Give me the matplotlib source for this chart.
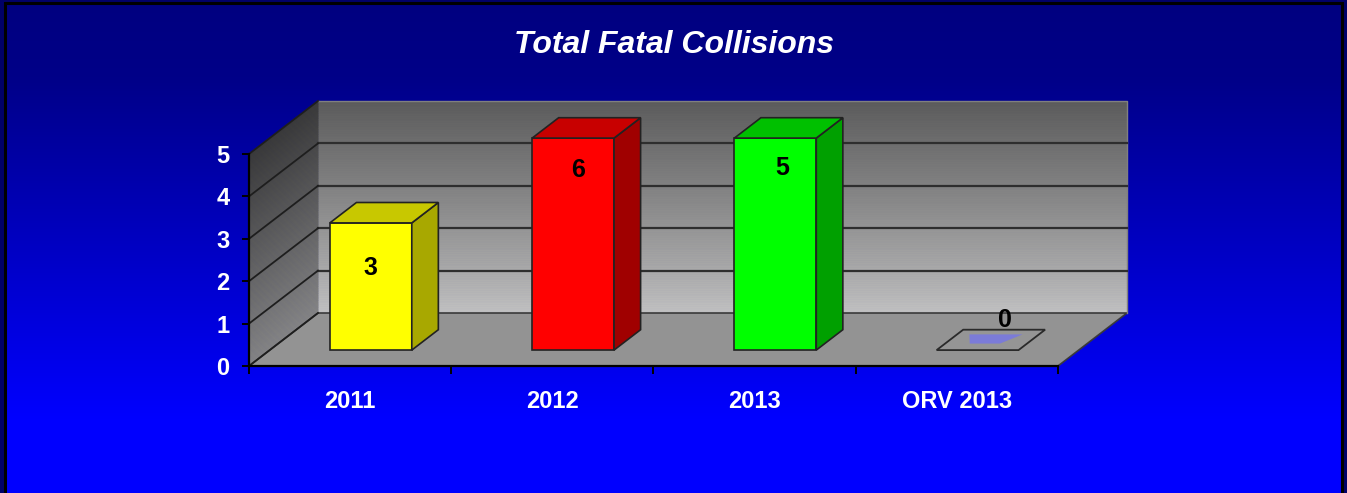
import matplotlib
matplotlib.use("Agg")
import matplotlib.pyplot as plt
import numpy as np
from matplotlib.patches import Polygon, Rectangle
from matplotlib.colors import LinearSegmentedColormap, to_rgb

# ---------------- data ----------------
categories = ["2011", "2012", "2013", "ORV 2013"]
values = [3, 6, 5, 0]
y_ticks = [0, 1, 2, 3, 4, 5]
title = "Total Fatal Collisions"

# ---------------- styles / layout ----------------
front_colors = ["#ffff00", "#ff0000", "#00ff00", "#8c8c8c"]
side_colors = ["#a8a800", "#a00000", "#00a000", "#8c8c8c"]
top_colors = ["#c8c800", "#c80000", "#00c000", "#959595"]
zero_fill = "#7b7bd8"
# value-label offsets (data units) relative to the top-front corner centre of each bar
label_dx = [0.0, 0.025, 0.033, 0.136]
label_dy = [-1.06, -0.75, -0.70, 0.70]

W, H = 1347, 493
FONT = "Liberation Sans"
DX = 69 / 202.25      # full depth shift in x data units
DY = 53 / 42.4        # full depth shift in y data units
F1, F2 = 0.30, 0.685  # bar front / back depth fractions
BAR_W = 0.405

fig = plt.figure(figsize=(W / 100, H / 100), dpi=100, facecolor="#000068")

# background gradient
bg = fig.add_axes([5 / W, 0, 1 - 10 / W, 1 - 3 / H], zorder=0)
grad = np.linspace(0, 1, 256).reshape(-1, 1)
bg_cmap = LinearSegmentedColormap.from_list(
    "bg", [(0, "#000080"), (0.15, "#000088"), (0.85, "#0000ff"), (1, "#0000ff")])
bg.imshow(grad, aspect="auto", cmap=bg_cmap, extent=[0, 1, 1, 0], origin="upper")
bg.set_xlim(0, 1); bg.set_ylim(1, 0)
bg.axis("off")
fig.patches.append(Rectangle((5 / W, -0.01), 1 - 10 / W, 1 - 3 / H + 0.01,
                             transform=fig.transFigure, fill=False,
                             edgecolor="black", lw=2.2, zorder=5))

n = len(categories)
YMAX = y_ticks[-1]
ax = fig.add_axes([249 / W, 127 / H, 809 / W, 212 / H], zorder=2)
ax.set_facecolor("none")
ax.set_xlim(-0.5, n - 0.5)
ax.set_ylim(0, YMAX)

x0, x1 = -0.5, n - 0.5


def mix(c1, c2, t):
    a, b = np.array(to_rgb(c1)), np.array(to_rgb(c2))
    return tuple(a + (b - a) * t)


# back wall bands (gradient)
nb = 120
edges = np.linspace(0, YMAX, nb + 1)
for k in range(nb):
    t = (edges[k] + edges[k + 1]) / 2 / YMAX
    col = mix("#c2c2c2", "#5c5c5c", t ** 0.9)
    ax.add_patch(Rectangle((x0 + DX, edges[k] + DY), x1 - x0, edges[k + 1] - edges[k],
                           facecolor=col, edgecolor=col, lw=0.6, clip_on=False, zorder=1))
# left wall bands
for k in range(nb):
    t = (edges[k] + edges[k + 1]) / 2 / YMAX
    col = mix("#858585", "#3a3a3a", t)
    ax.add_patch(Polygon([(x0, edges[k]), (x0 + DX, edges[k] + DY),
                          (x0 + DX, edges[k + 1] + DY), (x0, edges[k + 1])],
                         closed=True, facecolor=col, edgecolor=col, lw=0.6,
                         clip_on=False, zorder=1))
# floor
ax.add_patch(Polygon([(x0, 0), (x1, 0), (x1 + DX, DY), (x0 + DX, DY)], closed=True,
                     facecolor="#939393", edgecolor="#3a3a3a", lw=1.2,
                     clip_on=False, zorder=1.2))
# wall outlines
ax.plot([x0 + DX, x1 + DX, x1 + DX], [YMAX + DY, YMAX + DY, DY], color="#808080",
        lw=1.0, clip_on=False, zorder=1.3)

# gridlines on back wall and left wall
for v in y_ticks:
    if 0 < v < YMAX:
        ax.plot([x0 + DX, x1 + DX], [v + DY, v + DY], color="#2e2e2e", lw=1.6,
                clip_on=False, zorder=1.5)
    ax.plot([x0, x0 + DX], [v, v + DY], color="#1e1e1e", lw=1.3,
            clip_on=False, zorder=1.5)

# bars
clipped = [min(v, YMAX) for v in values]
xs = np.arange(n)
for i, (xc, h) in enumerate(zip(xs, clipped)):
    left = xc - BAR_W / 2
    right = xc + BAR_W / 2
    if h > 0:
        ax.bar(xc + F1 * DX, h, width=BAR_W, bottom=F1 * DY, color=front_colors[i],
               edgecolor="#222222", lw=1.2, zorder=3, clip_on=False)
        ax.add_patch(Polygon([(right + F1 * DX, F1 * DY), (right + F2 * DX, F2 * DY),
                              (right + F2 * DX, h + F2 * DY), (right + F1 * DX, h + F1 * DY)],
                             closed=True, facecolor=side_colors[i], edgecolor="#222222",
                             lw=1.2, zorder=3, clip_on=False))
        ax.add_patch(Polygon([(left + F1 * DX, h + F1 * DY), (right + F1 * DX, h + F1 * DY),
                              (right + F2 * DX, h + F2 * DY), (left + F2 * DX, h + F2 * DY)],
                             closed=True, facecolor=top_colors[i], edgecolor="#222222",
                             lw=1.2, zorder=3, clip_on=False))
    else:
        ax.add_patch(Polygon([(left + F1 * DX, F1 * DY), (right + F1 * DX, F1 * DY),
                              (right + F2 * DX, F2 * DY), (left + F2 * DX, F2 * DY)],
                             closed=True, facecolor=top_colors[i], edgecolor="#2a2a2a",
                             lw=1.3, zorder=3, clip_on=False))

        def pt(u, d):
            dd = F1 + (F2 - F1) * d
            return (left + u * BAR_W + dd * DX, dd * DY)
        ax.add_patch(Polygon([pt(0.30, 0.32), pt(0.67, 0.32), pt(0.80, 0.77), pt(0.15, 0.77)],
                             closed=True, facecolor=zero_fill, edgecolor="none",
                             zorder=3.1, clip_on=False))

# value labels
for i, (xc, h, v) in enumerate(zip(xs, clipped, values)):
    ax.text(xc + F1 * DX + label_dx[i], h + F1 * DY + label_dy[i], str(v),
            ha="center", va="center", fontsize=18, fontweight="bold",
            family=FONT, color="black", zorder=4, clip_on=False)

# axes styling
for s in ["top", "right"]:
    ax.spines[s].set_visible(False)
for s in ["left", "bottom"]:
    ax.spines[s].set_color("black")
    ax.spines[s].set_linewidth(1.6)
    ax.spines[s].set_zorder(2.5)

ax.set_yticks(y_ticks)
ax.set_yticklabels([str(t) for t in y_ticks])
ax.tick_params(axis="y", direction="out", length=5, width=1.4, color="black",
               pad=9, labelcolor="white", labelsize=17)
ax.set_xticks(np.arange(-0.5, n, 1.0))
ax.set_xticklabels([])
ax.set_xticks(xs, minor=True)
ax.set_xticklabels(categories, minor=True)
ax.tick_params(axis="x", which="major", direction="out", length=6, width=1.4, color="black")
ax.tick_params(axis="x", which="minor", length=0, pad=17, labelcolor="white", labelsize=17)
for lab in ax.get_yticklabels() + ax.get_xticklabels(minor=True):
    lab.set_fontweight("bold")
    lab.set_family(FONT)

fig.text(0.5, 1 - 45 / H, title, ha="center", va="center", color="white",
         fontsize=23, fontweight="bold", fontstyle="italic", family=FONT)

fig.savefig("out.png", dpi=100, facecolor=fig.get_facecolor())
